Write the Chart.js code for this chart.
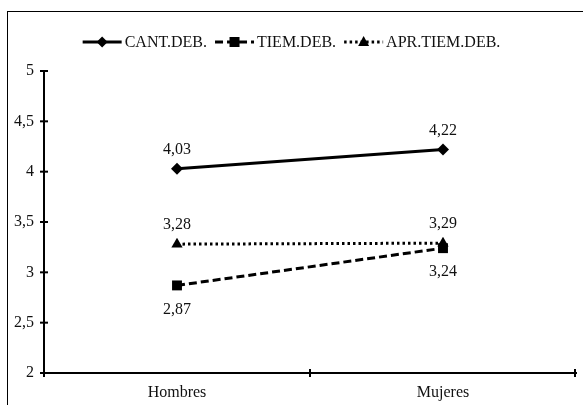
<!DOCTYPE html>
<html>
<head>
<meta charset="utf-8">
<script src="https://cdn.jsdelivr.net/npm/chart.js@4"></script>
<style>
  html, body { margin: 0; padding: 0; background: #fff; }
  #wrap { width: 583px; height: 405px; position: relative; }
</style>
</head>
<body>
<div id="wrap"><canvas id="grafico"></canvas></div>
<script>
// Datos del gráfico
const categorias = ["Hombres", "Mujeres"];
const cantDeb = [4.03, 4.22];
const tiemDeb = [2.87, 3.24];
const aprTiemDeb = [3.28, 3.29];
const nombresSeries = ["CANT.DEB.", "TIEM.DEB.", "APR.TIEM.DEB."];
// posición de las etiquetas de valor (arriba / abajo)
const posEtiquetas = [["up", "up"], ["down", "down"], ["up", "up"]];

const FUENTE = "'Liberation Serif', 'Times New Roman', serif";

function fmt(v) {
    return String(v).replace(".", ",");
}

// Dibuja un marcador como el de la serie
function marcador(ctx, tipo, x, y) {
    ctx.beginPath();
    if (tipo === "rectRot") {
        ctx.moveTo(x, y - 5.5); ctx.lineTo(x + 5.5, y); ctx.lineTo(x, y + 5.5); ctx.lineTo(x - 5.5, y);
    } else if (tipo === "rect") {
        ctx.rect(x - 5, y - 5, 10, 10);
    } else {
        ctx.moveTo(x, y - 6); ctx.lineTo(x + 5.5, y + 4); ctx.lineTo(x - 5.5, y + 4);
    }
    ctx.closePath();
    ctx.fill();
}

// Plugin: marco, leyenda, marcas de ejes y etiquetas de valores
const extras = {
    id: "extras",
    afterDraw(chart) {
        const ctx = chart.ctx;
        const area = chart.chartArea;
        ctx.save();

        // marco exterior
        ctx.strokeStyle = "#000";
        ctx.lineWidth = 1;
        ctx.strokeRect(7.5, 11.5, 700, 500);

        // marcas del eje Y
        const ys = chart.scales.y;
        ctx.lineWidth = 2;
        ys.ticks.forEach(t => {
            const py = ys.getPixelForValue(t.value);
            ctx.beginPath();
            ctx.moveTo(area.left - 4, py);
            ctx.lineTo(area.left + 4, py);
            ctx.stroke();
        });
        // marcas del eje X (entre categorías)
        [area.left, (area.left + area.right) / 2, area.right - 1].forEach(px => {
            ctx.beginPath();
            ctx.moveTo(px, area.bottom - 4);
            ctx.lineTo(px, area.bottom + 4);
            ctx.stroke();
        });

        // etiquetas de valores
        ctx.font = "16px " + FUENTE;
        ctx.fillStyle = "#111";
        ctx.textAlign = "center";
        ctx.textBaseline = "middle";
        chart.data.datasets.forEach((ds, i) => {
            const meta = chart.getDatasetMeta(i);
            meta.data.forEach((p, j) => {
                const dy = posEtiquetas[i][j] === "up" ? -19 : 24;
                ctx.fillText(fmt(ds.data[j]), p.x, p.y + dy);
            });
        });

        // leyenda
        const ly = 42;
        const largoLinea = 39;
        const hueco = 3;
        const sep = 8;
        const anchos = nombresSeries.map(n => ctx.measureText(n).width);
        let total = 0;
        anchos.forEach(w => { total += largoLinea + hueco + w; });
        total += sep * (anchos.length - 1);
        let x = chart.width / 2 - total / 2;
        chart.data.datasets.forEach((ds, i) => {
            ctx.strokeStyle = "#000";
            ctx.fillStyle = "#000";
            ctx.lineWidth = 3;
            ctx.setLineDash(ds.borderDash || []);
            ctx.beginPath();
            ctx.moveTo(x, ly);
            ctx.lineTo(x + largoLinea, ly);
            ctx.stroke();
            ctx.setLineDash([]);
            marcador(ctx, ds.pointStyle, x + largoLinea / 2, ly);
            ctx.fillStyle = "#111";
            ctx.textAlign = "left";
            ctx.fillText(nombresSeries[i], x + largoLinea + hueco, ly + 1);
            x += largoLinea + hueco + anchos[i] + sep;
        });

        ctx.restore();
    }
};

function crearGrafico() {
    const ctx = document.getElementById("grafico").getContext("2d");
    window.grafico = new Chart(ctx, {
        type: "line",
        data: {
            labels: categorias,
            datasets: [
                {
                    label: nombresSeries[0],
                    data: cantDeb,
                    borderColor: "#000",
                    backgroundColor: "#000",
                    borderWidth: 3,
                    pointStyle: "rectRot",
                    pointRadius: 6,
                    pointBorderWidth: 0
                },
                {
                    label: nombresSeries[1],
                    data: tiemDeb,
                    borderColor: "#000",
                    backgroundColor: "#000",
                    borderWidth: 3,
                    borderDash: [8, 4],
                    pointStyle: "rect",
                    pointRadius: 7,
                    pointBorderWidth: 0
                },
                {
                    label: nombresSeries[2],
                    data: aprTiemDeb,
                    borderColor: "#000",
                    backgroundColor: "#000",
                    borderWidth: 3,
                    borderDash: [2.5, 3],
                    pointStyle: "triangle",
                    pointRadius: 6.5,
                    pointBorderWidth: 0
                }
            ]
        },
        options: {
            responsive: true,
            maintainAspectRatio: false,
            animation: false,
            layout: { padding: { left: 0, right: 2, top: 71, bottom: 0 } },
            plugins: {
                legend: { display: false },
                tooltip: { enabled: false }
            },
            scales: {
                x: {
                    offset: true,
                    grid: { display: false, drawTicks: false },
                    border: { display: true, color: "#000", width: 2 },
                    ticks: { color: "#111", font: { family: FUENTE, size: 16 }, padding: 10 },
                    afterFit(s) { s.height = 32; }
                },
                y: {
                    min: 2,
                    max: 5,
                    grid: { display: false, drawTicks: false },
                    border: { display: true, color: "#000", width: 2 },
                    ticks: {
                        stepSize: 0.5,
                        color: "#111",
                        font: { family: FUENTE, size: 16 },
                        padding: 10,
                        callback: v => fmt(v)
                    },
                    afterFit(s) { s.width = 44; }
                }
            }
        },
        plugins: [extras]
    });
}

window.onload = crearGrafico;
</script>
</body>
</html>
